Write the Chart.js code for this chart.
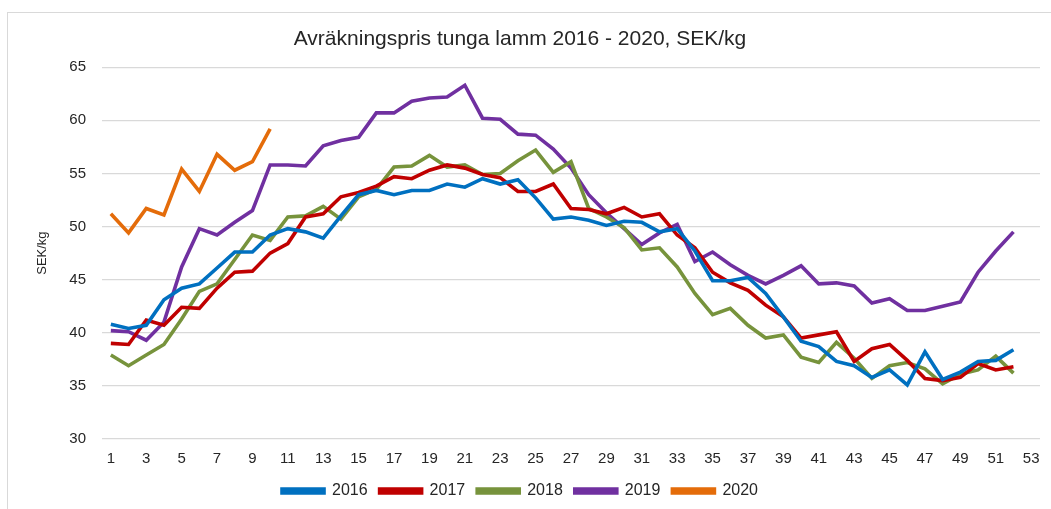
<!DOCTYPE html>
<html>
<head>
<meta charset="utf-8">
<script src="https://cdn.jsdelivr.net/npm/chart.js@4/dist/chart.umd.min.js"></script>
<style>
  html, body { margin: 0; padding: 0; background: #fff; }
  #wrap { position: relative; width: 1051px; height: 509px; }
  #ram { position: absolute; left: 7px; top: 12px; right: -2px; bottom: -2px; border: 1px solid #d9d9d9; }
  canvas { position: absolute; left: 0; top: 0; }
</style>
</head>
<body>
<div id="wrap">
  <div id="ram"></div>
  <canvas id="myChart" width="1051" height="509"></canvas>
</div>
<script>
const veckor = ["1","2","3","4","5","6","7","8","9","10","11","12","13","14","15","16","17","18","19","20",
  "21","22","23","24","25","26","27","28","29","30","31","32","33","34","35","36","37","38","39","40",
  "41","42","43","44","45","46","47","48","49","50","51","52","53"]

const pris2016 = [40.8,40.4,40.7,43.1,44.2,44.6,46.1,47.6,47.6,49.2,49.8,49.5,48.9,51.0,53.0,53.4,53.0,53.4,53.4,54.0,
  53.7,54.5,54.0,54.4,52.7,50.7,50.9,50.6,50.1,50.5,50.4,49.5,49.8,47.7,44.9,44.9,45.2,43.7,41.5,39.2,
  38.7,37.3,36.9,35.8,36.5,35.1,38.2,35.6,36.3,37.3,37.4,38.4]
const pris2017 = [39.0,38.9,41.2,40.7,42.4,42.3,44.2,45.7,45.8,47.5,48.4,50.9,51.2,52.8,53.2,53.8,54.7,54.5,55.3,55.8,
  55.5,54.9,54.6,53.3,53.3,54.0,51.7,51.6,51.2,51.8,50.9,51.2,49.2,48.0,45.7,44.7,44.0,42.6,41.5,39.5,
  39.8,40.1,37.3,38.5,38.9,37.4,35.7,35.5,35.8,37.1,36.5,36.8]
const pris2018 = [37.9,36.9,37.9,38.9,41.3,43.9,44.6,46.9,49.2,48.7,50.9,51.0,51.9,50.7,52.8,53.5,55.6,55.7,56.7,55.6,
  55.8,54.9,55.0,56.2,57.2,55.1,56.1,51.7,50.9,49.9,47.8,48.0,46.2,43.7,41.7,42.3,40.7,39.5,39.8,37.7,
  37.2,39.1,37.6,35.7,36.9,37.2,36.6,35.2,36.1,36.5,37.8,36.2]
const pris2019 = [40.2,40.1,39.3,41.0,46.2,49.8,49.2,50.4,51.5,55.8,55.8,55.7,57.6,58.1,58.4,60.7,60.7,61.8,62.1,62.2,
  63.3,60.2,60.1,58.7,58.6,57.3,55.5,53.0,51.3,49.8,48.3,49.4,50.2,46.7,47.6,46.4,45.4,44.6,45.4,46.3,
  44.6,44.7,44.4,42.8,43.2,42.1,42.1,42.5,42.9,45.7,47.7,49.5]
const pris2020 = [51.2,49.4,51.7,51.1,55.4,53.3,56.8,55.3,56.1,59.2]

const ar = ["2016","2017","2018","2019","2020"]
const farger = ["#0070C0","#C00000","#77933C","#7030A0","#E46C0A"]
const serier = [pris2016, pris2017, pris2018, pris2019, pris2020]

const typsnitt = "'Liberation Sans', Arial, sans-serif"
const textfarg = "#262626"

let datasets = []
serier.forEach(function(serie, i){
    datasets.push({
        label: ar[i],
        data: serie,
        borderColor: farger[i],
        backgroundColor: farger[i],
        borderWidth: 3.6,
        pointRadius: 0,
        tension: 0,
        fill: false
    })
})

var ctx = document.getElementById("myChart").getContext("2d")

const config = {
    type: 'line',
    data: { labels: veckor, datasets: datasets },
    options: {
        responsive: false,
        animation: false,
        layout: { padding: { left: 0, right: 11, top: 17, bottom: 0 } },
        plugins: {
            title: {
                display: true,
                text: 'Avräkningspris tunga lamm 2016 - 2020, SEK/kg',
                color: textfarg,
                font: { family: typsnitt, size: 21, weight: 'normal' },
                padding: { top: 10, bottom: 15 }
            },
            legend: {
                position: 'bottom',
                labels: {
                    color: textfarg,
                    font: { family: typsnitt, size: 16 },
                    boxWidth: 42,
                    boxHeight: 4,
                    padding: 12
                }
            },
            tooltip: { enabled: false }
        },
        scales: {
            x: {
                offset: true,
                grid: { display: false },
                border: { display: false },
                ticks: {
                    color: textfarg,
                    font: { family: typsnitt, size: 15 },
                    autoSkip: false,
                    maxRotation: 0,
                    padding: 3,
                    callback: function(val, index){
                        return index % 2 === 0 ? this.getLabelForValue(val) : ''
                    }
                }
            },
            y: {
                min: 30,
                max: 65,
                grid: { color: '#d9d9d9', lineWidth: 1.3, drawTicks: false },
                border: { display: false },
                ticks: {
                    stepSize: 5,
                    color: textfarg,
                    font: { family: typsnitt, size: 15 },
                    padding: 16
                },
                title: {
                    display: true,
                    text: 'SEK/kg',
                    color: textfarg,
                    font: { family: typsnitt, size: 13 },
                    padding: { top: 35, bottom: 0 }
                },
                afterFit: function(scale){ scale.width = 102 }
            }
        }
    }
}

var myChart = new Chart(ctx, config)
</script>
</body>
</html>
